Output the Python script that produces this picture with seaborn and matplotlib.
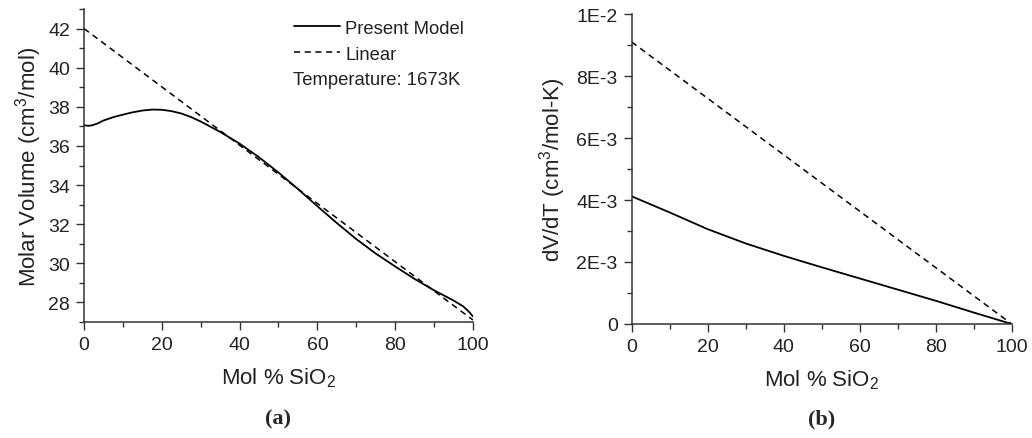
import numpy as np
import pandas as pd
import matplotlib
matplotlib.use("Agg")
import matplotlib.pyplot as plt
import seaborn as sns
from matplotlib.ticker import MultipleLocator, FixedLocator, FixedFormatter

sns.set_style("ticks")
plt.rcParams['font.family'] = ['Liberation Sans', 'DejaVu Sans']
plt.rcParams['mathtext.default'] = 'regular'

# (a) molar volume at 1673 K
mol_sio2_a = [0, 1, 2, 3.5, 5, 7.5, 10, 12.5, 15, 17.5, 20, 22.5, 25, 27.5,
              30, 35, 40, 45, 50, 55, 60, 65, 70, 75, 80, 85, 90, 95, 97.5,
              99, 100]
volume_model = [37.06, 37.03, 37.05, 37.15, 37.3, 37.47, 37.6, 37.72, 37.81,
                37.86, 37.85, 37.78, 37.66, 37.48, 37.25, 36.72, 36.12,
                35.42, 34.64, 33.8, 32.92, 32.06, 31.24, 30.5, 29.84, 29.2,
                28.62, 28.1, 27.8, 27.52, 27.28]
linear_x = [0, 100]
volume_linear = [42.0, 27.1]

# (b) dV/dT
mol_sio2_b = [0, 10, 20, 30, 40, 50, 60, 70, 80, 90, 100]
dvdt_model = [0.00412, 0.0036, 0.00306, 0.0026, 0.0022, 0.00183, 0.00147,
              0.00111, 0.00075, 0.00037, 0.0]
dvdt_linear = [0.0091, 0.0]

b_ticks = [0, 0.002, 0.004, 0.006, 0.008, 0.01]
b_ticklabels = ['0', '2E-3', '4E-3', '6E-3', '8E-3', '1E-2']

df_a = pd.DataFrame({'x': mol_sio2_a, 'y': volume_model})
df_a_lin = pd.DataFrame({'x': linear_x, 'y': volume_linear})
df_b = pd.DataFrame({'x': mol_sio2_b, 'y': dvdt_model})
df_b_lin = pd.DataFrame({'x': linear_x, 'y': dvdt_linear})

fig = plt.figure(figsize=(10.32, 4.39), dpi=100)
ax1 = fig.add_axes([0.0814, 0.2642, 0.3769, 0.7130])
ax2 = fig.add_axes([0.6120, 0.2597, 0.3683, 0.7061])

sns.lineplot(data=df_a, x='x', y='y', ax=ax1, color='black', lw=1.3,
             label='Present Model')
sns.lineplot(data=df_a_lin, x='x', y='y', ax=ax1, color='black', lw=1.1,
             linestyle=(0, (4, 3)), label='Linear')
sns.lineplot(data=df_b, x='x', y='y', ax=ax2, color='black', lw=1.3, legend=False)
sns.lineplot(data=df_b_lin, x='x', y='y', ax=ax2, color='black', lw=1.1,
             linestyle=(0, (4, 3)), legend=False)

for ax in (ax1, ax2):
    sns.despine(ax=ax)
    ax.set_xlim(0, 100)
    ax.xaxis.set_major_locator(MultipleLocator(20))
    ax.xaxis.set_minor_locator(MultipleLocator(10))
    ax.tick_params(which='major', direction='out', length=6, width=1,
                   labelsize=14, color='#333333', labelcolor='#222222', pad=4)
    ax.tick_params(which='minor', direction='out', length=3.5, width=1,
                   color='#333333')
    for s in ('left', 'bottom'):
        ax.spines[s].set_linewidth(1.1)
        ax.spines[s].set_color('#333333')
    ax.set_xlabel('Mol % SiO$_2$', fontsize=16, labelpad=9, color='#222222')

ax1.set_ylim(27, 43)
ax1.yaxis.set_major_locator(FixedLocator([28, 30, 32, 34, 36, 38, 40, 42]))
ax1.yaxis.set_minor_locator(MultipleLocator(1))
ax1.set_ylabel('Molar Volume (cm$^3$/mol)', fontsize=16, labelpad=3,
               color='#222222')

ax2.set_ylim(0, 0.01)
ax2.yaxis.set_major_locator(FixedLocator(b_ticks))
ax2.yaxis.set_major_formatter(FixedFormatter(b_ticklabels))
ax2.yaxis.set_minor_locator(MultipleLocator(0.001))
ax2.set_ylabel('dV/dT (cm$^3$/mol-K)', fontsize=16, labelpad=6,
               color='#222222')

leg = ax1.legend(loc='upper left', bbox_to_anchor=(0.52, 0.99), frameon=False,
                 fontsize=13.3, handlelength=2.5, handletextpad=0.3,
                 labelspacing=0.5, borderaxespad=0)
for t in leg.get_texts():
    t.set_color('#222222')
ax1.text(0.537, 0.776, 'Temperature: 1673K', transform=ax1.transAxes,
         fontsize=13.3, color='#222222', ha='left', va='center')

fig.text(0.2698, 0.045, '(a)', ha='center', va='center', fontsize=16,
         fontweight='bold', family=['Liberation Serif', 'DejaVu Serif'])
fig.text(0.7962, 0.045, '(b)', ha='center', va='center', fontsize=16,
         fontweight='bold', family=['Liberation Serif', 'DejaVu Serif'])

fig.savefig('out.png', dpi=100)
